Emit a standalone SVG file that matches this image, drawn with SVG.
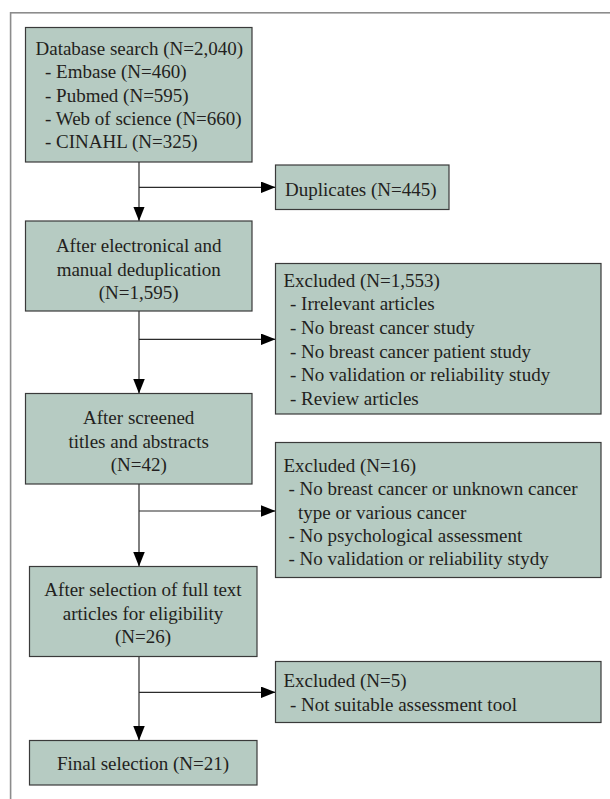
<svg xmlns="http://www.w3.org/2000/svg" width="610" height="799" viewBox="0 0 610 799">
<style>
.box{fill:#b6cbc2;stroke:#3a3a3a;stroke-width:1.2}
.t{font-family:"Liberation Serif","Times New Roman",serif;font-size:19px;fill:#231f20}
.c{text-anchor:middle}
.ln{fill:none;stroke:#2b2b2b;stroke-width:1.2}
.frame{fill:none;stroke:#8c8c8c;stroke-width:1.6}
</style>
<defs>
<marker id="ah" viewBox="0 0 14.5 11.5" refX="14.5" refY="5.75" markerWidth="14.5" markerHeight="11.5" markerUnits="userSpaceOnUse" orient="auto">
<path d="M0,0 L14.5,5.75 L0,11.5 z" fill="#000"/>
</marker>
</defs>
<rect class="frame" x="10.6" y="12.8" width="640" height="820"/>
<g id="connectors">
<path class="ln" d="M139,162 V221" marker-end="url(#ah)"/>
<path class="ln" d="M139,187.3 H275.5" marker-end="url(#ah)"/>
<path class="ln" d="M139,311 V393.5" marker-end="url(#ah)"/>
<path class="ln" d="M139,339.3 H275.5" marker-end="url(#ah)"/>
<path class="ln" d="M139,484 V566.5" marker-end="url(#ah)"/>
<path class="ln" d="M139,511 H275.5" marker-end="url(#ah)"/>
<path class="ln" d="M139,656.5 V740.5" marker-end="url(#ah)"/>
<path class="ln" d="M139,692.3 H275.5" marker-end="url(#ah)"/>
</g>
<g id="database-search">
<rect class="box" x="25.5" y="27.5" width="226.5" height="134.5"/>
<text class="t" x="35.5" y="55">Database search (N=2,040)</text>
<text class="t" x="45" y="78.3">- Embase (N=460)</text>
<text class="t" x="45" y="101.6">- Pubmed (N=595)</text>
<text class="t" x="45" y="124.9">- Web of science (N=660)</text>
<text class="t" x="45" y="148.2">- CINAHL (N=325)</text>
</g>
<g id="duplicates">
<rect class="box" x="275.5" y="165" width="173.5" height="44.5"/>
<text class="t" x="285" y="195.7">Duplicates (N=445)</text>
</g>
<g id="deduplication">
<rect class="box" x="25.5" y="221" width="226.5" height="90"/>
<text class="t c" x="138.7" y="252">After electronical and</text>
<text class="t c" x="138.7" y="275.5">manual deduplication</text>
<text class="t c" x="138.7" y="298.5">(N=1,595)</text>
</g>
<g id="excluded-1553">
<rect class="box" x="275.5" y="263.5" width="325.5" height="150.5"/>
<text class="t" x="283.5" y="286.7">Excluded (N=1,553)</text>
<text class="t" x="290" y="310.2">- Irrelevant articles</text>
<text class="t" x="290" y="333.9">- No breast cancer study</text>
<text class="t" x="290" y="357.6">- No breast cancer patient study</text>
<text class="t" x="290" y="381.3">- No validation or reliability study</text>
<text class="t" x="290" y="405">- Review articles</text>
</g>
<g id="screened">
<rect class="box" x="25.5" y="393.5" width="226.5" height="90.5"/>
<text class="t c" x="138.7" y="424.3">After screened</text>
<text class="t c" x="138.7" y="448.3">titles and abstracts</text>
<text class="t c" x="138.7" y="471">(N=42)</text>
</g>
<g id="excluded-16">
<rect class="box" x="275.5" y="442.5" width="325.5" height="135"/>
<text class="t" x="283.5" y="471.7">Excluded (N=16)</text>
<text class="t" x="288.5" y="495.2">- No breast cancer or unknown cancer</text>
<text class="t" x="298" y="518.5">type or various cancer</text>
<text class="t" x="288.5" y="541.8">- No psychological assessment</text>
<text class="t" x="288.5" y="565.1">- No validation or reliability stydy</text>
</g>
<g id="full-text">
<rect class="box" x="29.5" y="566.5" width="227.5" height="90"/>
<text class="t c" x="143" y="596">After selection of full text</text>
<text class="t c" x="143" y="620">articles for eligibility</text>
<text class="t c" x="143" y="643">(N=26)</text>
</g>
<g id="excluded-5">
<rect class="box" x="275.5" y="661.5" width="325.5" height="61"/>
<text class="t" x="283.5" y="687">Excluded (N=5)</text>
<text class="t" x="290" y="710.5">- Not suitable assessment tool</text>
</g>
<g id="final">
<rect class="box" x="29.5" y="740.5" width="227.5" height="44.5"/>
<text class="t c" x="143" y="770">Final selection (N=21)</text>
</g>
</svg>
